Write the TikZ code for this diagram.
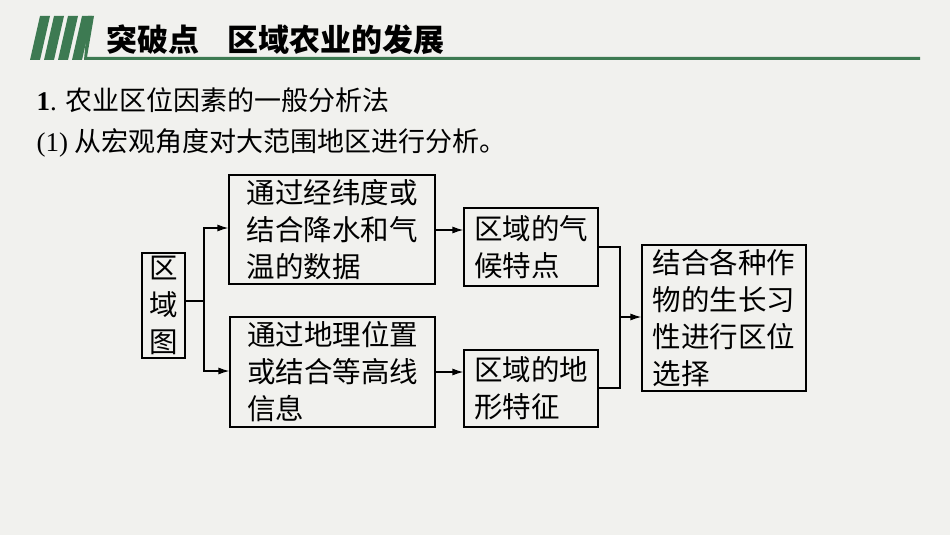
\documentclass[tikz,border=0pt]{standalone}
\usepackage{fontspec}
\setmainfont{Liberation Serif}
\newfontfamily\cjk{Noto Sans CJK SC}
\usetikzlibrary{arrows.meta}
\definecolor{bg}{HTML}{F1F1EE}
\definecolor{gr}{HTML}{3D7A52}
\tikzset{
 bx/.style={draw=black, line width=1.2pt, inner sep=0pt, font=\cjk\fontsize{28.5}{37}\selectfont, align=left},
 ln/.style={line width=1.2pt},
 ar/.style={line width=1.2pt,-{Latex[length=11pt,width=7pt]}}
}
\begin{document}
\begin{tikzpicture}[x=1pt,y=-1pt]
\fill[bg] (0,0) rectangle (950,535);
\useasboundingbox (0,0) rectangle (950,535);
\foreach \i in {0,1,2,3}{
 \fill[gr] ({40+\i*14},16) -- ({50+\i*14},16) -- ({40+\i*14},60) -- ({30+\i*14},60) -- cycle;}
\fill[gr] (88,16) -- (94,16) -- (87,57) -- (920,57) -- (920,60) -- (84,60) -- cycle;
\node[anchor=west, font=\cjk\bfseries\fontsize{31}{34}\selectfont] (title) at (103,40) {突破点\hspace{0.9em}区域农业的发展};
\node[anchor=west, font=\fontsize{27}{30}\selectfont] (h1) at (33,100) {\textbf{1}. {\cjk 农业区位因素的一般分析法}};
\node[anchor=west, font=\fontsize{27}{30}\selectfont] (h2) at (33,143) {(1) {\cjk 从宏观角度对大范围地区进行分析。}};

\node[bx, minimum width=43, minimum height=105, align=center] (a) at (163.5,305.5) {区\\域\\图};
\node[bx, minimum width=206, minimum height=109] (b) at (332,229.5) {通过经纬度或\\结合降水和气\\温的数据};
\node[bx, minimum width=205, minimum height=110] (c) at (332.5,372) {通过地理位置\\或结合等高线\\信息};
\node[bx, minimum width=134, minimum height=78] (d) at (531,247) {区域的气\\候特点};
\node[bx, minimum width=134, minimum height=77] (e) at (531,388.5) {区域的地\\形特征};
\node[bx, minimum width=164, minimum height=146] (f) at (724,318) {结合各种作\\物的生长习\\性进行区位\\选择};

\coordinate (j1) at (204,301);
\coordinate (j2) at (620,317);
\draw[ln] (a.east|-j1) -- (j1);
\draw[ar] (j1) |- (b.west|-0,228);
\draw[ar] (j1) |- (c.west|-0,371);
\draw[ar] (b.east|-0,230) -- (d.west|-0,230);
\draw[ar] (c.east|-0,372) -- (e.west|-0,372);
\draw[ln] (d.east|-0,247) -| (j2);
\draw[ln] (e.east|-0,388) -| (j2);
\draw[ar] (j2) -- (f.west|-j2);
\end{tikzpicture}
\end{document}
